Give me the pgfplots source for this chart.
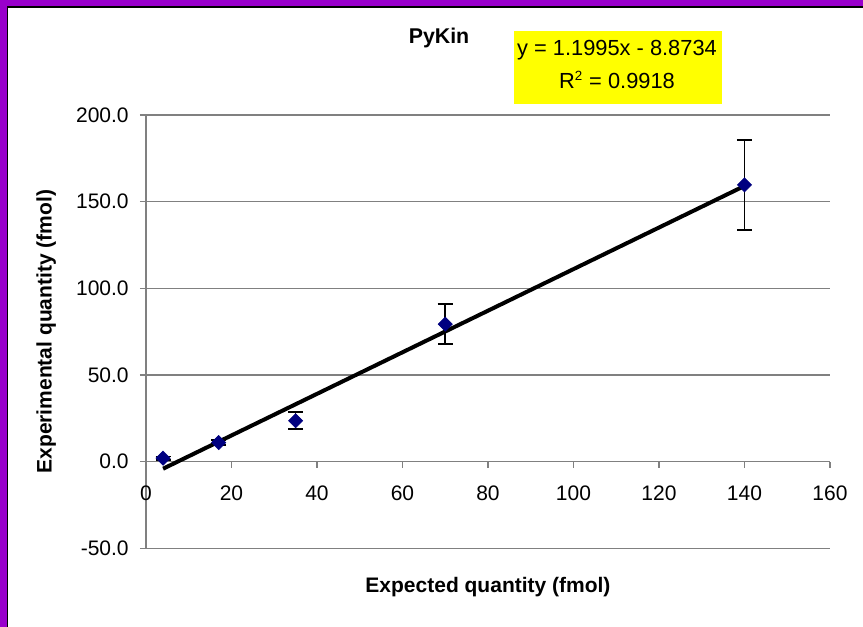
\documentclass[border=0pt]{standalone}
\usepackage{pgfplots}
\pgfplotsset{compat=1.18}
\usepackage{fontspec}
\setmainfont{Liberation Sans}
\definecolor{framepurple}{HTML}{9900CC}
\definecolor{marknavy}{HTML}{000080}
\definecolor{gridgray}{HTML}{808080}
\definecolor{eqyellow}{HTML}{FFFF00}

\begin{document}
\begin{tikzpicture}
% chart area with purple frame on the top and left edges
\fill[white] (-87.6pt,-47.2pt) rectangle (430.2pt,329pt);
\fill[framepurple] (-87.6pt,325.2pt) rectangle (430.2pt,329pt);
\fill[framepurple] (-87.6pt,-47.2pt) rectangle (-83.4pt,329pt);
\draw[black,line width=0.8pt] (-83pt,-47.2pt) -- (-83pt,324.8pt) -- (430.2pt,324.8pt);

\begin{axis}[
  scale only axis,
  width=410.4pt, height=260pt,
  xmin=0, xmax=160, ymin=-50, ymax=200,
  axis x line*=middle, axis y line*=left,
  hide obscured x ticks=false,
  axis line style={gridgray,line width=0.7pt},
  ymajorgrids,
  grid style={gridgray,line width=0.7pt},
  tick align=outside,
  major tick length=3.6pt,
  tick style={gridgray,line width=0.7pt},
  xtick={0,20,...,160},
  xticklabels={0,20,40,60,80,100,120,140,160},
  ytick={-50,0,50,100,150,200},
  yticklabels={-50.0,0.0,50.0,100.0,150.0,200.0},
  tick label style={font=\fontsize{12.6}{15}\selectfont, inner sep=0pt},
  xticklabel style={anchor=north, yshift=-11pt},
  yticklabel style={anchor=east, xshift=-6.6pt},
  xlabel={\bfseries Expected quantity (fmol)},
  ylabel={\bfseries Experimental quantity (fmol)},
  label style={font=\fontsize{12.6}{15}\selectfont},
  xlabel style={at={(axis description cs:0.5,-0.0893)}, anchor=center},
  ylabel style={at={(axis description cs:-0.146,0.5)}, anchor=center},
  clip=false,
]
% measured quantities with standard deviations
\addplot[
  only marks,
  mark=square*,
  mark size=3pt,
  mark options={rotate=45, fill=marknavy, draw=marknavy},
  error bars/.cd,
    y dir=both, y explicit,
    error bar style={black,line width=1pt},
    error mark options={rotate=90,black,line width=1pt,mark size=4.5pt},
] coordinates {
  (4,2.0)    +- (0,1.0)
  (17,11.0)  +- (0,1.5)
  (35,23.6)  +- (0,4.9)
  (70,79.3)  +- (0,11.6)
  (140,159.7) +- (0,25.9)
};
% linear trendline y = 1.1995x - 8.8734
\addplot[black, line width=2.4pt] coordinates {(4,-4.0754) (140,159.0566)};
\end{axis}

\node[font=\fontsize{12.8}{15}\selectfont\bfseries] at (175.8pt,306.4pt) {PyKin};
\fill[eqyellow] (220.8pt,266.4pt) rectangle (345.4pt,310.4pt);
\node[font=\fontsize{13.1}{15}\selectfont] at (282.6pt,299pt) {y = 1.1995x - 8.8734};
\node[font=\fontsize{13.1}{15}\selectfont] at (282.6pt,281pt) {R\textsuperscript{\fontsize{8}{8}\selectfont 2} = 0.9918};

\pgfresetboundingbox
\useasboundingbox (-87.6pt,-47.2pt) rectangle (430.2pt,329pt);
\end{tikzpicture}
\end{document}
